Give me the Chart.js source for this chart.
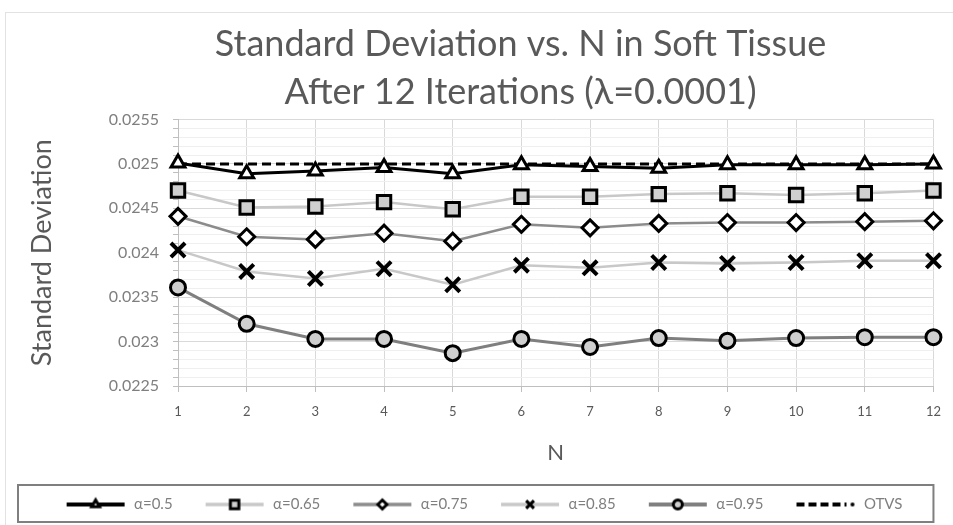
<!DOCTYPE html>
<html lang="en">
<head>
    <meta charset="UTF-8">
    <title>Standard Deviation vs. N in Soft Tissue</title>
    <script src="https://cdn.jsdelivr.net/npm/chart.js"></script>
    <style>
        body {
            margin: 0;
            padding: 0;
            background: #fff;
        }

        .container {
            width: 953px;
            height: 525px;
        }
    </style>
</head>
<body>
    <div class="container">
        <canvas id="sdChart" width="953" height="525"></canvas>
    </div>

    <script>
        const nValues = ['1', '2', '3', '4', '5', '6', '7', '8', '9', '10', '11', '12'];

        const alpha050 = [0.02501, 0.02489, 0.02492, 0.02496, 0.02489, 0.02499, 0.02497, 0.02495, 0.02499, 0.02499, 0.02499, 0.02500];
        const alpha065 = [0.02470, 0.02451, 0.02452, 0.02457, 0.02449, 0.02463, 0.02463, 0.02466, 0.02467, 0.02465, 0.02467, 0.02470];
        const alpha075 = [0.02441, 0.02418, 0.02415, 0.02422, 0.02413, 0.02432, 0.02428, 0.02433, 0.02434, 0.02434, 0.02435, 0.02436];
        const alpha085 = [0.02403, 0.02379, 0.02371, 0.02382, 0.02364, 0.02386, 0.02383, 0.02389, 0.02388, 0.02389, 0.02391, 0.02391];
        const alpha095 = [0.02361, 0.02320, 0.02303, 0.02303, 0.02287, 0.02303, 0.02294, 0.02304, 0.02301, 0.02304, 0.02305, 0.02305];
        const otvs = [0.025, 0.025, 0.025, 0.025, 0.025, 0.025, 0.025, 0.025, 0.025, 0.025, 0.025, 0.025];

        const yMin = 0.0225;
        const yMax = 0.0255;

        const textGray = '#595959';

        // legend icon: short line with a small marker in the middle
        function legendIcon(ds) {
            const c = document.createElement('canvas');
            c.width = 81;
            c.height = 18;
            const g = c.getContext('2d');
            const x0 = 21, x1 = 79, cy = 9;
            g.strokeStyle = ds.borderColor;
            g.lineWidth = ds.borderWidth + 1;
            if (ds.borderDash) g.setLineDash([8, 4]);
            g.beginPath();
            g.moveTo(x0, cy);
            g.lineTo(ds.pointStyle ? x1 : x1 - 8, cy);
            g.stroke();
            g.setLineDash([]);
            if (ds.pointStyle) {
                g.fillStyle = ds.pointBackgroundColor;
                g.strokeStyle = '#000';
                g.lineWidth = 3;
                const r = { crossRot: 5.5, rect: 6 }[ds.pointStyle] || 4.5;
                Chart.helpers.drawPoint(g, {
                    pointStyle: ds.pointStyle,
                    radius: r,
                    borderWidth: 3,
                    rotation: 0
                }, (x0 + x1) / 2, cy);
            } else {
                g.fillStyle = '#000';
                g.beginPath();
                g.arc(x1 - 2, cy, 2, 0, Math.PI * 2);
                g.fill();
            }
            return c;
        }

        const chartFrame = {
            id: 'chartFrame',
            afterLayout(chart) {
                // the title sits a bit right of the canvas centre, as in the original
                chart.titleBlock.left = 88;
                chart.titleBlock.right = chart.width;
            },
            beforeDraw(chart) {
                const ctx = chart.ctx;
                ctx.save();
                ctx.fillStyle = '#fff';
                ctx.fillRect(0, 0, chart.width, chart.height);
                ctx.strokeStyle = '#e2e2e2';
                ctx.lineWidth = 1;
                ctx.strokeRect(5.5, 12.5, chart.width, chart.height);
                ctx.restore();
            },
            afterDraw(chart) {
                const lg = chart.legend;
                const ctx = chart.ctx;
                ctx.save();
                ctx.strokeStyle = '#7f7f7f';
                ctx.lineWidth = 2;
                ctx.strokeRect(18, lg.top, chart.chartArea.right - 18, lg.height);
                ctx.restore();
            }
        };

        const ctx = document.getElementById('sdChart').getContext('2d');

        const sdChart = new Chart(ctx, {
            type: 'line',
            data: {
                labels: nValues,
                datasets: [{
                    label: 'α=0.5',
                    data: alpha050,
                    borderColor: '#000',
                    borderWidth: 3,
                    pointStyle: 'triangle',
                    pointRadius: 8,
                    pointBorderWidth: 3,
                    pointBorderColor: '#000',
                    pointBackgroundColor: '#fff'
                }, {
                    label: 'α=0.65',
                    data: alpha065,
                    borderColor: '#c8c8c8',
                    borderWidth: 2.5,
                    pointStyle: 'rect',
                    pointRadius: 9.5,
                    pointBorderWidth: 3,
                    pointBorderColor: '#000',
                    pointBackgroundColor: '#cfcfcf'
                }, {
                    label: 'α=0.75',
                    data: alpha075,
                    borderColor: '#8c8c8c',
                    borderWidth: 2.5,
                    pointStyle: 'rectRot',
                    pointRadius: 8,
                    pointBorderWidth: 3,
                    pointBorderColor: '#000',
                    pointBackgroundColor: '#fff'
                }, {
                    label: 'α=0.85',
                    data: alpha085,
                    borderColor: '#c8c8c8',
                    borderWidth: 2.5,
                    pointStyle: 'crossRot',
                    pointRadius: 10,
                    pointBorderWidth: 4,
                    pointBorderColor: '#000',
                    pointBackgroundColor: '#000'
                }, {
                    label: 'α=0.95',
                    data: alpha095,
                    borderColor: '#7f7f7f',
                    borderWidth: 3,
                    pointStyle: 'circle',
                    pointRadius: 7.5,
                    pointBorderWidth: 3,
                    pointBorderColor: '#000',
                    pointBackgroundColor: '#cfcfcf'
                }, {
                    label: 'OTVS',
                    data: otvs,
                    borderColor: '#000',
                    borderWidth: 3,
                    borderDash: [9, 5],
                    pointStyle: false,
                    pointRadius: 0
                }]
            },
            options: {
                responsive: false,
                animation: false,
                layout: {
                    padding: { left: 12, right: 17, top: 0, bottom: 3 }
                },
                plugins: {
                    title: {
                        display: true,
                        text: ['Standard Deviation vs. N in Soft Tissue', 'After 12 Iterations (λ=0.0001)'],
                        color: textGray,
                        font: { family: 'Lato', size: 36, weight: 'normal', lineHeight: 1.34 },
                        padding: { top: 20, bottom: 3 }
                    },
                    legend: {
                        position: 'bottom',
                        labels: {
                            usePointStyle: true,
                            pointStyleWidth: 81,
                            padding: 12,
                            color: '#7f7f7f',
                            font: { family: 'Lato', size: 15 },
                            generateLabels(chart) {
                                return chart.data.datasets.map((ds, i) => ({
                                    text: ds.label,
                                    pointStyle: legendIcon(ds),
                                    fontColor: '#7f7f7f',
                                    lineWidth: 0,
                                    strokeStyle: 'transparent',
                                    fillStyle: 'transparent',
                                    hidden: false,
                                    datasetIndex: i
                                }));
                            }
                        }
                    },
                    tooltip: { enabled: false }
                },
                scales: {
                    x: {
                        offset: false,
                        grid: {
                            color: '#d9d9d9',
                            tickLength: 6,
                            tickColor: '#bfbfbf'
                        },
                        border: { color: '#bfbfbf' },
                        ticks: {
                            color: textGray,
                            font: { family: 'Lato', size: 13 },
                            padding: 12
                        },
                        title: {
                            display: true,
                            text: 'N',
                            color: textGray,
                            font: { family: 'Lato', size: 22 },
                            padding: { top: 10, bottom: 19 }
                        },
                        afterFit(scale) {
                            scale.height = 99;
                        }
                    },
                    y: {
                        min: yMin,
                        max: yMax,
                        grid: {
                            color: (c) => Math.round(c.tick.value * 10000) % 5 === 0 ? '#d9d9d9' : '#efefef',
                            tickLength: 5,
                            tickColor: '#bfbfbf'
                        },
                        border: { color: '#bfbfbf' },
                        ticks: {
                            stepSize: 0.0001,
                            autoSkip: false,
                            maxTicksLimit: 40,
                            color: '#7f7f7f',
                            font: { family: 'Lato', size: 16 },
                            padding: 14,
                            callback(v) {
                                const k = Math.round(v * 10000);
                                if (k % 5 !== 0) return '';
                                return String(Number(v.toFixed(4)));
                            }
                        },
                        title: {
                            display: true,
                            text: 'Standard Deviation',
                            color: textGray,
                            font: { family: 'Lato', size: 27 },
                            padding: { top: 14, bottom: 0 }
                        },
                        afterFit(scale) {
                            scale.width = 166;
                        }
                    }
                }
            },
            plugins: [chartFrame]
        });
    </script>
</body>
</html>
